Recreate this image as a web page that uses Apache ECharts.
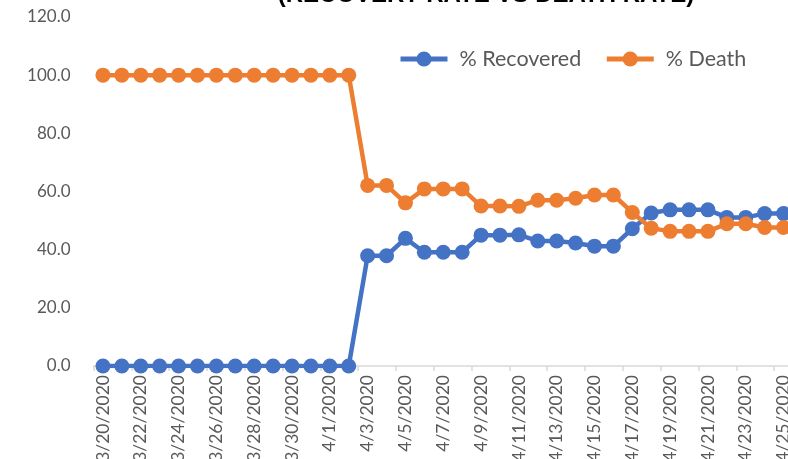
<!DOCTYPE html>
<html>
<head>
<meta charset="utf-8">
<script src="https://cdn.jsdelivr.net/npm/echarts@6/dist/echarts.min.js"></script>
<style>
html, body { margin: 0; padding: 0; background: #fff; }
#myChart { width: 788px; height: 459px; }
</style>
</head>
<body>
<div id="myChart"></div>
<script>
// dates 3/20/2020 .. 4/25/2020
const dates = ['3/20/2020', '3/21/2020', '3/22/2020', '3/23/2020', '3/24/2020', '3/25/2020', '3/26/2020',
  '3/27/2020', '3/28/2020', '3/29/2020', '3/30/2020', '3/31/2020', '4/1/2020', '4/2/2020',
  '4/3/2020', '4/4/2020', '4/5/2020', '4/6/2020', '4/7/2020', '4/8/2020', '4/9/2020', '4/10/2020',
  '4/11/2020', '4/12/2020', '4/13/2020', '4/14/2020', '4/15/2020', '4/16/2020', '4/17/2020',
  '4/18/2020', '4/19/2020', '4/20/2020', '4/21/2020', '4/22/2020', '4/23/2020', '4/24/2020', '4/25/2020']

const recovered = [0, 0, 0, 0, 0, 0, 0, 0, 0, 0, 0, 0, 0, 0,
  37.9, 37.9, 43.9, 39.1, 39.1, 39.1, 45.0, 45.0, 45.1, 43.0, 43.0, 42.3, 41.2, 41.2,
  47.2, 52.6, 53.7, 53.7, 53.7, 51.1, 51.1, 52.4, 52.4]

const death = [100, 100, 100, 100, 100, 100, 100, 100, 100, 100, 100, 100, 100, 100,
  62.1, 62.1, 56.1, 60.9, 60.9, 60.9, 55.0, 55.0, 54.9, 57.0, 57.0, 57.7, 58.8, 58.8,
  52.8, 47.4, 46.3, 46.3, 46.3, 48.9, 48.9, 47.6, 47.6]

const titleText = '(RECOVERY RATE VS DEATH RATE)'
const fontName = 'Lato'
const grey = '#595959'

const myChart = echarts.init(document.getElementById('myChart'))

const option = {
  animation: false,
  backgroundColor: '#fff',
  textStyle: { fontFamily: fontName },
  graphic: [{
    type: 'text',
    x: 486, y: 7,
    style: {
      text: titleText,
      fill: '#000',
      font: 'bold 24px "Liberation Sans"',
      align: 'center',
      verticalAlign: 'bottom'
    }
  }],
  legend: {
    data: ['% Recovered', '% Death'],
    left: 398,
    top: 48,
    padding: 0,
    itemWidth: 47,
    itemHeight: 19,
    itemGap: 23,
    lineStyle: { width: 5 },
    textStyle: { color: grey, fontSize: 21.5, fontFamily: fontName, padding: [0, 0, 0, 7] }
  },
  grid: { left: 93.5, right: -5, top: 17, bottom: 93, containLabel: false, outerBoundsMode: 'none' },
  xAxis: {
    type: 'category',
    data: dates,
    boundaryGap: true,
    axisLine: { lineStyle: { color: '#D9D9D9', width: 1.5 } },
    axisTick: { show: true, interval: 1, length: 5, lineStyle: { color: '#D9D9D9', width: 1.5 } },
    axisLabel: { interval: 1, rotate: 90, margin: 9, color: grey, fontSize: 17.5, fontFamily: fontName },
    splitLine: { show: false }
  },
  yAxis: {
    type: 'value',
    min: 0, max: 120, interval: 20,
    axisLine: { show: false },
    axisTick: { show: false },
    splitLine: { show: false },
    axisLabel: {
      margin: 23, color: grey, fontSize: 17, fontFamily: fontName,
      formatter: function (v) { return v.toFixed(1) }
    }
  },
  series: [
    {
      name: '% Recovered',
      type: 'line',
      data: recovered,
      color: '#4472C4',
      symbol: 'circle',
      symbolSize: 15,
      showAllSymbol: true,
      lineStyle: { width: 4.5, color: '#4472C4' },
      itemStyle: { color: '#4472C4' }
    },
    {
      name: '% Death',
      type: 'line',
      data: death,
      color: '#ED7D31',
      symbol: 'circle',
      symbolSize: 15,
      showAllSymbol: true,
      lineStyle: { width: 4.5, color: '#ED7D31' },
      itemStyle: { color: '#ED7D31' }
    }
  ]
}

myChart.setOption(option)
</script>
</body>
</html>
